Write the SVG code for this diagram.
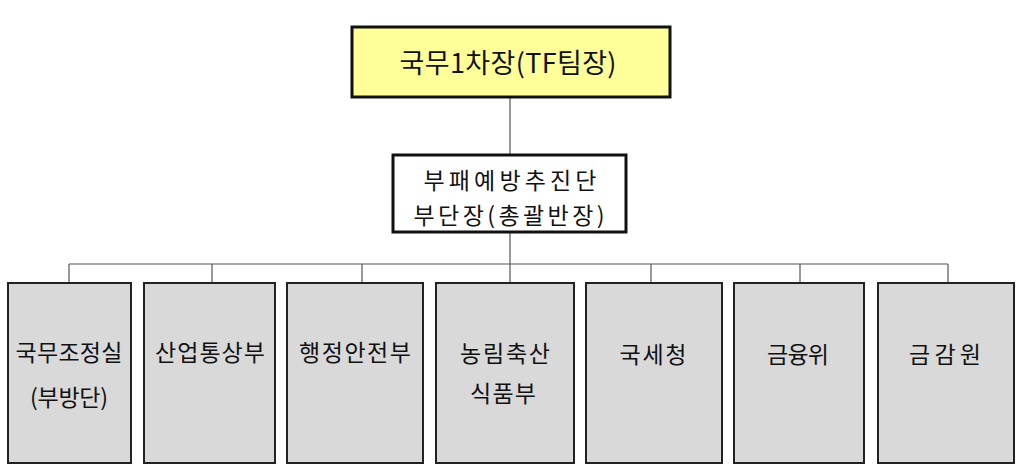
<svg xmlns="http://www.w3.org/2000/svg" width="1024" height="470" viewBox="0 0 1024 470">
<style>
text{font-family:"Noto Sans CJK KR","Noto Sans",sans-serif;fill:#111;text-anchor:middle}
.top{fill:#ffff99;stroke:#111;stroke-width:3}
.mid{fill:#fff;stroke:#111;stroke-width:3}
.unit{fill:#d9d9d9;stroke:#222;stroke-width:2}
.conn{stroke:#555;stroke-width:1.2;fill:none}
.t26{font-size:27px}
.t22{font-size:23px}
</style>
<rect width="1024" height="470" fill="#fff"/>
<g id="connectors">
<path class="conn" d="M510 97V155M510 232V264M69 264H948M69 264V283M212 264V283M362 264V283M510 264V283M651 264V283M800 264V283M948 264V283"/>
</g>
<g id="node-top">
<rect class="top" x="352" y="27" width="318" height="70"/>
<text class="t26" x="508" y="73" textLength="217">국무1차장(TF팀장)</text>
</g>
<g id="node-mid">
<rect class="mid" x="393" y="155" width="233" height="77"/>
<text class="t22" x="510" y="189" textLength="173">부패예방추진단</text>
<text class="t22" x="509" y="224" textLength="191">부단장(총괄반장)</text>
</g>
<g id="node-1">
<rect class="unit" x="8" y="283" width="123" height="180"/>
<text class="t22" x="69" y="361" textLength="107">국무조정실</text>
<text class="t22" x="69" y="406" textLength="78">(부방단)</text>
</g>
<g id="node-2">
<rect class="unit" x="144" y="283" width="131" height="180"/>
<text class="t22" x="210" y="361" textLength="110">산업통상부</text>
</g>
<g id="node-3">
<rect class="unit" x="287" y="283" width="136" height="180"/>
<text class="t22" x="355" y="361" textLength="112">행정안전부</text>
</g>
<g id="node-4">
<rect class="unit" x="436" y="283" width="138" height="180"/>
<text class="t22" x="505" y="362" textLength="90">농림축산</text>
<text class="t22" x="503" y="402" textLength="66">식품부</text>
</g>
<g id="node-5">
<rect class="unit" x="586" y="283" width="136" height="180"/>
<text class="t22" x="653" y="363" textLength="67">국세청</text>
</g>
<g id="node-6">
<rect class="unit" x="734" y="283" width="130" height="180"/>
<text class="t22" x="798" y="363" textLength="62">금융위</text>
</g>
<g id="node-7">
<rect class="unit" x="878" y="283" width="136" height="180"/>
<text class="t22" x="945" y="363" textLength="72">금감원</text>
</g>
</svg>
